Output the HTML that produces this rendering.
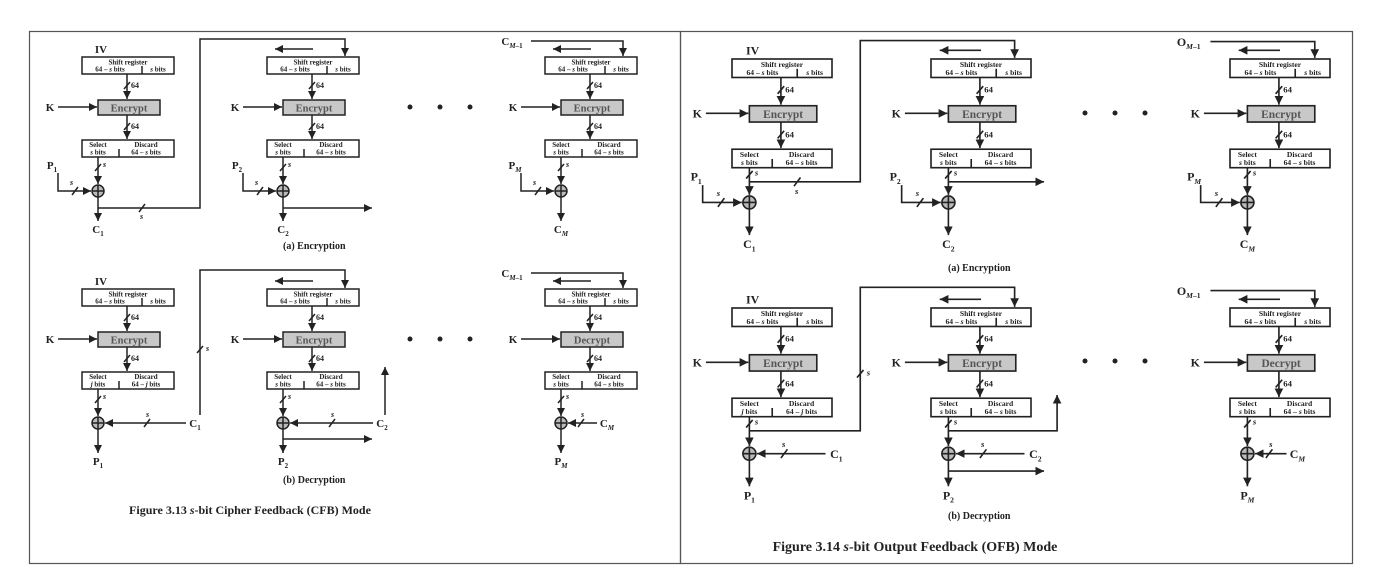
<!DOCTYPE html>
<html><head><meta charset="utf-8"><style>
body{margin:0;background:#fff}
svg{display:block}
text{font-family:"Liberation Serif",serif;font-weight:bold;fill:#222;text-anchor:middle}
.s{font-size:7px}.e{font-size:10.5px;fill:#555}.n{font-size:8px;text-anchor:start}
.k{font-size:11px}.l{font-size:10px;text-anchor:start}.i{font-style:italic}
.c{font-size:14px}.c2{font-size:12px}
path,line{stroke:#222;stroke-width:1.5;fill:none}
.b{fill:#fff;stroke:#222;stroke-width:1.5}.g{fill:#c8c8c8;stroke:#222;stroke-width:1.5}
.x{fill:#bbb;stroke:#222;stroke-width:1.5}
.d{fill:#222}
</style></head><body>
<svg width="1377" height="582" viewBox="0 0 1377 582" xmlns="http://www.w3.org/2000/svg">
<defs><marker id="a" markerUnits="userSpaceOnUse" markerWidth="8" markerHeight="8" refX="8" refY="4" orient="auto"><path d="M0,0L8,4L0,8z" style="fill:#222;stroke:none"/></marker></defs>
<rect x="29.5" y="31.5" width="651" height="532" fill="none" stroke="#555" stroke-width="1.2"/>
<rect x="680.5" y="31.5" width="672" height="532" fill="none" stroke="#555" stroke-width="1.2"/>

<g transform="translate(82,57)">
<rect class="b" x="0" y="0" width="92" height="17"/><text class="s" x="46" y="7.5">Shift register</text><text class="s" x="28" y="14.5">64 – <tspan class="i">s</tspan> bits</text><text class="s" x="76" y="14.5"><tspan class="i">s</tspan> bits</text><path d="M60 9V17"/>
<path d="M45 17V42" marker-end="url(#a)"/><path d="M42 32L48 25"/><text class="n" x="49" y="31">64</text>
<rect class="g" x="16" y="43" width="62" height="15"/><text class="e" x="47" y="54.5">Encrypt</text>
<path d="M45 58V82" marker-end="url(#a)"/><path d="M42 73L48 66"/><text class="n" x="49" y="72">64</text>
<rect class="b" x="0" y="83" width="92" height="17"/><text class="s" x="16" y="90">Select</text><text class="s" x="16" y="97.5"><tspan class="i">s</tspan> bits</text><text class="s" x="64" y="90">Discard</text><text class="s" x="64" y="97.5">64 – <tspan class="i">s</tspan> bits</text><path d="M37 92V100"/>
<path d="M16 100V127" marker-end="url(#a)"/><path d="M13 114L19 107"/><text class="n i" x="21" y="110">s</text>
<text class="k" x="-32" y="54">K</text><path d="M-24 50H15" marker-end="url(#a)"/>
<circle class="x" cx="16" cy="134" r="6"/><path d="M10 134H22M16 128V140"/>
<text class="k" x="-30" y="112">P<tspan font-size="7" dy="3">1</tspan></text>
<path d="M-24 116V134H9" marker-end="url(#a)"/><path d="M-10 138L-4 130"/><text class="n i" x="-12" y="128">s</text>
<path d="M16 140V164" marker-end="url(#a)"/><text class="k" x="16" y="176">C<tspan font-size="7" dy="3">1</tspan></text>
<path d="M16 151H118V-18H263V-1" marker-end="url(#a)"/><path d="M57 155L63 147"/><text class="n i" x="58" y="162">s</text>
<text class="k" x="19" y="-4">IV</text>
</g>
<g transform="translate(267,57)">
<rect class="b" x="0" y="0" width="92" height="17"/><text class="s" x="46" y="7.5">Shift register</text><text class="s" x="28" y="14.5">64 – <tspan class="i">s</tspan> bits</text><text class="s" x="76" y="14.5"><tspan class="i">s</tspan> bits</text><path d="M60 9V17"/>
<path d="M45 17V42" marker-end="url(#a)"/><path d="M42 32L48 25"/><text class="n" x="49" y="31">64</text>
<rect class="g" x="16" y="43" width="62" height="15"/><text class="e" x="47" y="54.5">Encrypt</text>
<path d="M45 58V82" marker-end="url(#a)"/><path d="M42 73L48 66"/><text class="n" x="49" y="72">64</text>
<rect class="b" x="0" y="83" width="92" height="17"/><text class="s" x="16" y="90">Select</text><text class="s" x="16" y="97.5"><tspan class="i">s</tspan> bits</text><text class="s" x="64" y="90">Discard</text><text class="s" x="64" y="97.5">64 – <tspan class="i">s</tspan> bits</text><path d="M37 92V100"/>
<path d="M16 100V127" marker-end="url(#a)"/><path d="M13 114L19 107"/><text class="n i" x="21" y="110">s</text>
<text class="k" x="-32" y="54">K</text><path d="M-24 50H15" marker-end="url(#a)"/>
<circle class="x" cx="16" cy="134" r="6"/><path d="M10 134H22M16 128V140"/>
<text class="k" x="-30" y="112">P<tspan font-size="7" dy="3">2</tspan></text>
<path d="M-24 116V134H9" marker-end="url(#a)"/><path d="M-10 138L-4 130"/><text class="n i" x="-12" y="128">s</text>
<path d="M16 140V164" marker-end="url(#a)"/><text class="k" x="16" y="176">C<tspan font-size="7" dy="3">2</tspan></text>
<path d="M16 151H105" marker-end="url(#a)"/><path d="M46 -8H8" marker-end="url(#a)"/>
</g>
<g transform="translate(545,57)">
<rect class="b" x="0" y="0" width="92" height="17"/><text class="s" x="46" y="7.5">Shift register</text><text class="s" x="28" y="14.5">64 – <tspan class="i">s</tspan> bits</text><text class="s" x="76" y="14.5"><tspan class="i">s</tspan> bits</text><path d="M60 9V17"/>
<path d="M45 17V42" marker-end="url(#a)"/><path d="M42 32L48 25"/><text class="n" x="49" y="31">64</text>
<rect class="g" x="16" y="43" width="62" height="15"/><text class="e" x="47" y="54.5">Encrypt</text>
<path d="M45 58V82" marker-end="url(#a)"/><path d="M42 73L48 66"/><text class="n" x="49" y="72">64</text>
<rect class="b" x="0" y="83" width="92" height="17"/><text class="s" x="16" y="90">Select</text><text class="s" x="16" y="97.5"><tspan class="i">s</tspan> bits</text><text class="s" x="64" y="90">Discard</text><text class="s" x="64" y="97.5">64 – <tspan class="i">s</tspan> bits</text><path d="M37 92V100"/>
<path d="M16 100V127" marker-end="url(#a)"/><path d="M13 114L19 107"/><text class="n i" x="21" y="110">s</text>
<text class="k" x="-32" y="54">K</text><path d="M-24 50H15" marker-end="url(#a)"/>
<circle class="x" cx="16" cy="134" r="6"/><path d="M10 134H22M16 128V140"/>
<text class="k" x="-30" y="112">P<tspan font-size="7" dy="3" class="i">M</tspan></text>
<path d="M-24 116V134H9" marker-end="url(#a)"/><path d="M-10 138L-4 130"/><text class="n i" x="-12" y="128">s</text>
<path d="M16 140V164" marker-end="url(#a)"/><text class="k" x="16" y="176">C<tspan font-size="7" dy="3" class="i">M</tspan></text>
<path d="M46 -8H8" marker-end="url(#a)"/><path d="M-14 -16H78V-1" marker-end="url(#a)"/>
<text class="k" x="-33" y="-12">C<tspan font-size="7" dy="3" class="i">M</tspan><tspan font-size="7">–1</tspan></text>
</g>
<circle class="d" cx="410" cy="107" r="2.5"/><circle class="d" cx="440" cy="107" r="2.5"/><circle class="d" cx="470" cy="107" r="2.5"/>
<text class="l" x="283" y="249">(a) Encryption</text>

<g transform="translate(82,289)">
<rect class="b" x="0" y="0" width="92" height="17"/><text class="s" x="46" y="7.5">Shift register</text><text class="s" x="28" y="14.5">64 – <tspan class="i">s</tspan> bits</text><text class="s" x="76" y="14.5"><tspan class="i">s</tspan> bits</text><path d="M60 9V17"/>
<path d="M45 17V42" marker-end="url(#a)"/><path d="M42 32L48 25"/><text class="n" x="49" y="31">64</text>
<rect class="g" x="16" y="43" width="62" height="15"/><text class="e" x="47" y="54.5">Encrypt</text>
<path d="M45 58V82" marker-end="url(#a)"/><path d="M42 73L48 66"/><text class="n" x="49" y="72">64</text>
<rect class="b" x="0" y="83" width="92" height="17"/><text class="s" x="16" y="90">Select</text><text class="s" x="16" y="97.5"><tspan class="i">j</tspan> bits</text><text class="s" x="64" y="90">Discard</text><text class="s" x="64" y="97.5">64 – <tspan class="i">j</tspan> bits</text><path d="M37 92V100"/>
<path d="M16 100V127" marker-end="url(#a)"/><path d="M13 114L19 107"/><text class="n i" x="21" y="110">s</text>
<text class="k" x="-32" y="54">K</text><path d="M-24 50H15" marker-end="url(#a)"/>
<circle class="x" cx="16" cy="134" r="6"/><path d="M10 134H22M16 128V140"/>
<path d="M104 134H23" marker-end="url(#a)"/><path d="M62 138L68 130"/><text class="n i" x="64" y="128">s</text>
<text class="k" x="113" y="138">C<tspan font-size="7" dy="3">1</tspan></text>
<path d="M118 126V-19H263V-1" marker-end="url(#a)"/><path d="M115 64L121 57"/><text class="n i" x="124" y="62">s</text>
<path d="M16 140V164" marker-end="url(#a)"/><text class="k" x="16" y="176">P<tspan font-size="7" dy="3">1</tspan></text>
<text class="k" x="19" y="-4">IV</text>
</g>
<g transform="translate(267,289)">
<rect class="b" x="0" y="0" width="92" height="17"/><text class="s" x="46" y="7.5">Shift register</text><text class="s" x="28" y="14.5">64 – <tspan class="i">s</tspan> bits</text><text class="s" x="76" y="14.5"><tspan class="i">s</tspan> bits</text><path d="M60 9V17"/>
<path d="M45 17V42" marker-end="url(#a)"/><path d="M42 32L48 25"/><text class="n" x="49" y="31">64</text>
<rect class="g" x="16" y="43" width="62" height="15"/><text class="e" x="47" y="54.5">Encrypt</text>
<path d="M45 58V82" marker-end="url(#a)"/><path d="M42 73L48 66"/><text class="n" x="49" y="72">64</text>
<rect class="b" x="0" y="83" width="92" height="17"/><text class="s" x="16" y="90">Select</text><text class="s" x="16" y="97.5"><tspan class="i">s</tspan> bits</text><text class="s" x="64" y="90">Discard</text><text class="s" x="64" y="97.5">64 – <tspan class="i">s</tspan> bits</text><path d="M37 92V100"/>
<path d="M16 100V127" marker-end="url(#a)"/><path d="M13 114L19 107"/><text class="n i" x="21" y="110">s</text>
<text class="k" x="-32" y="54">K</text><path d="M-24 50H15" marker-end="url(#a)"/>
<circle class="x" cx="16" cy="134" r="6"/><path d="M10 134H22M16 128V140"/>
<path d="M106 134H23" marker-end="url(#a)"/><path d="M62 138L68 130"/><text class="n i" x="64" y="128">s</text>
<text class="k" x="115" y="138">C<tspan font-size="7" dy="3">2</tspan></text>
<path d="M118 126V78" marker-end="url(#a)"/>
<path d="M16 140V164" marker-end="url(#a)"/><text class="k" x="16" y="176">P<tspan font-size="7" dy="3">2</tspan></text>
<path d="M16 150H105" marker-end="url(#a)"/><path d="M46 -8H8" marker-end="url(#a)"/>
</g>
<g transform="translate(545,289)">
<rect class="b" x="0" y="0" width="92" height="17"/><text class="s" x="46" y="7.5">Shift register</text><text class="s" x="28" y="14.5">64 – <tspan class="i">s</tspan> bits</text><text class="s" x="76" y="14.5"><tspan class="i">s</tspan> bits</text><path d="M60 9V17"/>
<path d="M45 17V42" marker-end="url(#a)"/><path d="M42 32L48 25"/><text class="n" x="49" y="31">64</text>
<rect class="g" x="16" y="43" width="62" height="15"/><text class="e" x="47" y="54.5">Decrypt</text>
<path d="M45 58V82" marker-end="url(#a)"/><path d="M42 73L48 66"/><text class="n" x="49" y="72">64</text>
<rect class="b" x="0" y="83" width="92" height="17"/><text class="s" x="16" y="90">Select</text><text class="s" x="16" y="97.5"><tspan class="i">s</tspan> bits</text><text class="s" x="64" y="90">Discard</text><text class="s" x="64" y="97.5">64 – <tspan class="i">s</tspan> bits</text><path d="M37 92V100"/>
<path d="M16 100V127" marker-end="url(#a)"/><path d="M13 114L19 107"/><text class="n i" x="21" y="110">s</text>
<text class="k" x="-32" y="54">K</text><path d="M-24 50H15" marker-end="url(#a)"/>
<circle class="x" cx="16" cy="134" r="6"/><path d="M10 134H22M16 128V140"/>
<path d="M52 134H23" marker-end="url(#a)"/><path d="M33 138L39 130"/><text class="n i" x="36" y="128">s</text>
<text class="k" x="62" y="138">C<tspan font-size="7" dy="3" class="i">M</tspan></text>
<path d="M16 140V164" marker-end="url(#a)"/><text class="k" x="16" y="176">P<tspan font-size="7" dy="3" class="i">M</tspan></text>
<path d="M46 -8H8" marker-end="url(#a)"/><path d="M-14 -16H78V-1" marker-end="url(#a)"/>
<text class="k" x="-33" y="-12">C<tspan font-size="7" dy="3" class="i">M</tspan><tspan font-size="7">–1</tspan></text>
</g>
<circle class="d" cx="410" cy="339" r="2.5"/><circle class="d" cx="440" cy="339" r="2.5"/><circle class="d" cx="470" cy="339" r="2.5"/>
<text class="l" x="283" y="483">(b) Decryption</text>
<text class="c2" x="250" y="514"><tspan>Figure 3.13  </tspan><tspan class="i">s</tspan>-bit Cipher Feedback (CFB) Mode</text>

<g transform="translate(732,59) scale(1.087)">
<rect class="b" x="0" y="0" width="92" height="17"/><text class="s" x="46" y="7.5">Shift register</text><text class="s" x="28" y="14.5">64 – <tspan class="i">s</tspan> bits</text><text class="s" x="76" y="14.5"><tspan class="i">s</tspan> bits</text><path d="M60 9V17"/>
<path d="M45 17V42" marker-end="url(#a)"/><path d="M42 32L48 25"/><text class="n" x="49" y="31">64</text>
<rect class="g" x="16" y="43" width="62" height="15"/><text class="e" x="47" y="54.5">Encrypt</text>
<path d="M45 58V82" marker-end="url(#a)"/><path d="M42 73L48 66"/><text class="n" x="49" y="72">64</text>
<rect class="b" x="0" y="83" width="92" height="17"/><text class="s" x="16" y="90">Select</text><text class="s" x="16" y="97.5"><tspan class="i">s</tspan> bits</text><text class="s" x="64" y="90">Discard</text><text class="s" x="64" y="97.5">64 – <tspan class="i">s</tspan> bits</text><path d="M37 92V100"/>
<path d="M16 100V125" marker-end="url(#a)"/><path d="M13 110L19 103"/><text class="n i" x="21" y="107">s</text>
<text class="k" x="-32" y="54">K</text><path d="M-24 50H15" marker-end="url(#a)"/>
<circle class="x" cx="16" cy="132" r="6"/><path d="M10 132H22M16 126V138"/>
<text class="k" x="-33" y="112">P<tspan font-size="7" dy="3">1</tspan></text>
<path d="M-27 116V132H9" marker-end="url(#a)"/><path d="M-13 136L-7 128"/><text class="n i" x="-14" y="126">s</text>
<path d="M16 138V162" marker-end="url(#a)"/><text class="k" x="16" y="174">C<tspan font-size="7" dy="3">1</tspan></text>
<path d="M16 113H118V-17H260V-1" marker-end="url(#a)"/><path d="M57 117L63 109"/><text class="n i" x="58" y="124">s</text>
<text class="k" x="19" y="-4">IV</text>
</g>
<g transform="translate(931,59) scale(1.087)">
<rect class="b" x="0" y="0" width="92" height="17"/><text class="s" x="46" y="7.5">Shift register</text><text class="s" x="28" y="14.5">64 – <tspan class="i">s</tspan> bits</text><text class="s" x="76" y="14.5"><tspan class="i">s</tspan> bits</text><path d="M60 9V17"/>
<path d="M45 17V42" marker-end="url(#a)"/><path d="M42 32L48 25"/><text class="n" x="49" y="31">64</text>
<rect class="g" x="16" y="43" width="62" height="15"/><text class="e" x="47" y="54.5">Encrypt</text>
<path d="M45 58V82" marker-end="url(#a)"/><path d="M42 73L48 66"/><text class="n" x="49" y="72">64</text>
<rect class="b" x="0" y="83" width="92" height="17"/><text class="s" x="16" y="90">Select</text><text class="s" x="16" y="97.5"><tspan class="i">s</tspan> bits</text><text class="s" x="64" y="90">Discard</text><text class="s" x="64" y="97.5">64 – <tspan class="i">s</tspan> bits</text><path d="M37 92V100"/>
<path d="M16 100V125" marker-end="url(#a)"/><path d="M13 110L19 103"/><text class="n i" x="21" y="107">s</text>
<text class="k" x="-32" y="54">K</text><path d="M-24 50H15" marker-end="url(#a)"/>
<circle class="x" cx="16" cy="132" r="6"/><path d="M10 132H22M16 126V138"/>
<text class="k" x="-33" y="112">P<tspan font-size="7" dy="3">2</tspan></text>
<path d="M-27 116V132H9" marker-end="url(#a)"/><path d="M-13 136L-7 128"/><text class="n i" x="-14" y="126">s</text>
<path d="M16 138V162" marker-end="url(#a)"/><text class="k" x="16" y="174">C<tspan font-size="7" dy="3">2</tspan></text>
<path d="M16 113H104" marker-end="url(#a)"/><path d="M46 -8H8" marker-end="url(#a)"/>
</g>
<g transform="translate(1230,59) scale(1.087)">
<rect class="b" x="0" y="0" width="92" height="17"/><text class="s" x="46" y="7.5">Shift register</text><text class="s" x="28" y="14.5">64 – <tspan class="i">s</tspan> bits</text><text class="s" x="76" y="14.5"><tspan class="i">s</tspan> bits</text><path d="M60 9V17"/>
<path d="M45 17V42" marker-end="url(#a)"/><path d="M42 32L48 25"/><text class="n" x="49" y="31">64</text>
<rect class="g" x="16" y="43" width="62" height="15"/><text class="e" x="47" y="54.5">Encrypt</text>
<path d="M45 58V82" marker-end="url(#a)"/><path d="M42 73L48 66"/><text class="n" x="49" y="72">64</text>
<rect class="b" x="0" y="83" width="92" height="17"/><text class="s" x="16" y="90">Select</text><text class="s" x="16" y="97.5"><tspan class="i">s</tspan> bits</text><text class="s" x="64" y="90">Discard</text><text class="s" x="64" y="97.5">64 – <tspan class="i">s</tspan> bits</text><path d="M37 92V100"/>
<path d="M16 100V125" marker-end="url(#a)"/><path d="M13 110L19 103"/><text class="n i" x="21" y="107">s</text>
<text class="k" x="-32" y="54">K</text><path d="M-24 50H15" marker-end="url(#a)"/>
<circle class="x" cx="16" cy="132" r="6"/><path d="M10 132H22M16 126V138"/>
<text class="k" x="-33" y="112">P<tspan font-size="7" dy="3" class="i">M</tspan></text>
<path d="M-27 116V132H9" marker-end="url(#a)"/><path d="M-13 136L-7 128"/><text class="n i" x="-14" y="126">s</text>
<path d="M16 138V162" marker-end="url(#a)"/><text class="k" x="16" y="174">C<tspan font-size="7" dy="3" class="i">M</tspan></text>
<path d="M46 -8H8" marker-end="url(#a)"/><path d="M-18 -16H78V-1" marker-end="url(#a)"/>
<text class="k" x="-38" y="-12">O<tspan font-size="7" dy="3" class="i">M</tspan><tspan font-size="7">–1</tspan></text>
</g>
<circle class="d" cx="1085" cy="113" r="2.5"/><circle class="d" cx="1115" cy="113" r="2.5"/><circle class="d" cx="1145" cy="113" r="2.5"/>
<text class="l" x="948" y="271">(a) Encryption</text>

<g transform="translate(732,308) scale(1.087)">
<rect class="b" x="0" y="0" width="92" height="17"/><text class="s" x="46" y="7.5">Shift register</text><text class="s" x="28" y="14.5">64 – <tspan class="i">s</tspan> bits</text><text class="s" x="76" y="14.5"><tspan class="i">s</tspan> bits</text><path d="M60 9V17"/>
<path d="M45 17V42" marker-end="url(#a)"/><path d="M42 32L48 25"/><text class="n" x="49" y="31">64</text>
<rect class="g" x="16" y="43" width="62" height="15"/><text class="e" x="47" y="54.5">Encrypt</text>
<path d="M45 58V82" marker-end="url(#a)"/><path d="M42 73L48 66"/><text class="n" x="49" y="72">64</text>
<rect class="b" x="0" y="83" width="92" height="17"/><text class="s" x="16" y="90">Select</text><text class="s" x="16" y="97.5"><tspan class="i">j</tspan> bits</text><text class="s" x="64" y="90">Discard</text><text class="s" x="64" y="97.5">64 – <tspan class="i">j</tspan> bits</text><path d="M37 92V100"/>
<path d="M16 100V127" marker-end="url(#a)"/><path d="M13 110L19 103"/><text class="n i" x="21" y="107">s</text>
<text class="k" x="-32" y="54">K</text><path d="M-24 50H15" marker-end="url(#a)"/>
<circle class="x" cx="16" cy="134" r="6"/><path d="M10 134H22M16 128V140"/>
<path d="M86 134H23" marker-end="url(#a)"/><path d="M45 138L51 130"/><text class="n i" x="46" y="128">s</text>
<text class="k" x="96" y="138">C<tspan font-size="7" dy="3">1</tspan></text>
<path d="M16 113H118V-19H260V-1" marker-end="url(#a)"/><path d="M115 64L121 57"/><text class="n i" x="124" y="62">s</text>
<path d="M16 140V164" marker-end="url(#a)"/><text class="k" x="16" y="176">P<tspan font-size="7" dy="3">1</tspan></text>
<text class="k" x="19" y="-4">IV</text>
</g>
<g transform="translate(931,308) scale(1.087)">
<rect class="b" x="0" y="0" width="92" height="17"/><text class="s" x="46" y="7.5">Shift register</text><text class="s" x="28" y="14.5">64 – <tspan class="i">s</tspan> bits</text><text class="s" x="76" y="14.5"><tspan class="i">s</tspan> bits</text><path d="M60 9V17"/>
<path d="M45 17V42" marker-end="url(#a)"/><path d="M42 32L48 25"/><text class="n" x="49" y="31">64</text>
<rect class="g" x="16" y="43" width="62" height="15"/><text class="e" x="47" y="54.5">Encrypt</text>
<path d="M45 58V82" marker-end="url(#a)"/><path d="M42 73L48 66"/><text class="n" x="49" y="72">64</text>
<rect class="b" x="0" y="83" width="92" height="17"/><text class="s" x="16" y="90">Select</text><text class="s" x="16" y="97.5"><tspan class="i">s</tspan> bits</text><text class="s" x="64" y="90">Discard</text><text class="s" x="64" y="97.5">64 – <tspan class="i">s</tspan> bits</text><path d="M37 92V100"/>
<path d="M16 100V127" marker-end="url(#a)"/><path d="M13 110L19 103"/><text class="n i" x="21" y="107">s</text>
<text class="k" x="-32" y="54">K</text><path d="M-24 50H15" marker-end="url(#a)"/>
<circle class="x" cx="16" cy="134" r="6"/><path d="M10 134H22M16 128V140"/>
<path d="M86 134H23" marker-end="url(#a)"/><path d="M45 138L51 130"/><text class="n i" x="46" y="128">s</text>
<text class="k" x="96" y="138">C<tspan font-size="7" dy="3">2</tspan></text>
<path d="M16 113H116V80" marker-end="url(#a)"/>
<path d="M16 140V164" marker-end="url(#a)"/><text class="k" x="16" y="176">P<tspan font-size="7" dy="3">2</tspan></text>
<path d="M16 150H104" marker-end="url(#a)"/><path d="M46 -8H8" marker-end="url(#a)"/>
</g>
<g transform="translate(1230,308) scale(1.087)">
<rect class="b" x="0" y="0" width="92" height="17"/><text class="s" x="46" y="7.5">Shift register</text><text class="s" x="28" y="14.5">64 – <tspan class="i">s</tspan> bits</text><text class="s" x="76" y="14.5"><tspan class="i">s</tspan> bits</text><path d="M60 9V17"/>
<path d="M45 17V42" marker-end="url(#a)"/><path d="M42 32L48 25"/><text class="n" x="49" y="31">64</text>
<rect class="g" x="16" y="43" width="62" height="15"/><text class="e" x="47" y="54.5">Decrypt</text>
<path d="M45 58V82" marker-end="url(#a)"/><path d="M42 73L48 66"/><text class="n" x="49" y="72">64</text>
<rect class="b" x="0" y="83" width="92" height="17"/><text class="s" x="16" y="90">Select</text><text class="s" x="16" y="97.5"><tspan class="i">s</tspan> bits</text><text class="s" x="64" y="90">Discard</text><text class="s" x="64" y="97.5">64 – <tspan class="i">s</tspan> bits</text><path d="M37 92V100"/>
<path d="M16 100V127" marker-end="url(#a)"/><path d="M13 110L19 103"/><text class="n i" x="21" y="107">s</text>
<text class="k" x="-32" y="54">K</text><path d="M-24 50H15" marker-end="url(#a)"/>
<circle class="x" cx="16" cy="134" r="6"/><path d="M10 134H22M16 128V140"/>
<path d="M52 134H23" marker-end="url(#a)"/><path d="M33 138L39 130"/><text class="n i" x="36" y="128">s</text>
<text class="k" x="62" y="138">C<tspan font-size="7" dy="3" class="i">M</tspan></text>
<path d="M16 140V164" marker-end="url(#a)"/><text class="k" x="16" y="176">P<tspan font-size="7" dy="3" class="i">M</tspan></text>
<path d="M46 -8H8" marker-end="url(#a)"/><path d="M-18 -16H78V-1" marker-end="url(#a)"/>
<text class="k" x="-38" y="-12">O<tspan font-size="7" dy="3" class="i">M</tspan><tspan font-size="7">–1</tspan></text>
</g>
<circle class="d" cx="1085" cy="361" r="2.5"/><circle class="d" cx="1115" cy="361" r="2.5"/><circle class="d" cx="1145" cy="361" r="2.5"/>
<text class="l" x="948" y="519">(b) Decryption</text>
<text class="c" x="915" y="551"><tspan>Figure 3.14  </tspan><tspan class="i">s</tspan>-bit Output Feedback (OFB) Mode</text>
</svg>
</body></html>
